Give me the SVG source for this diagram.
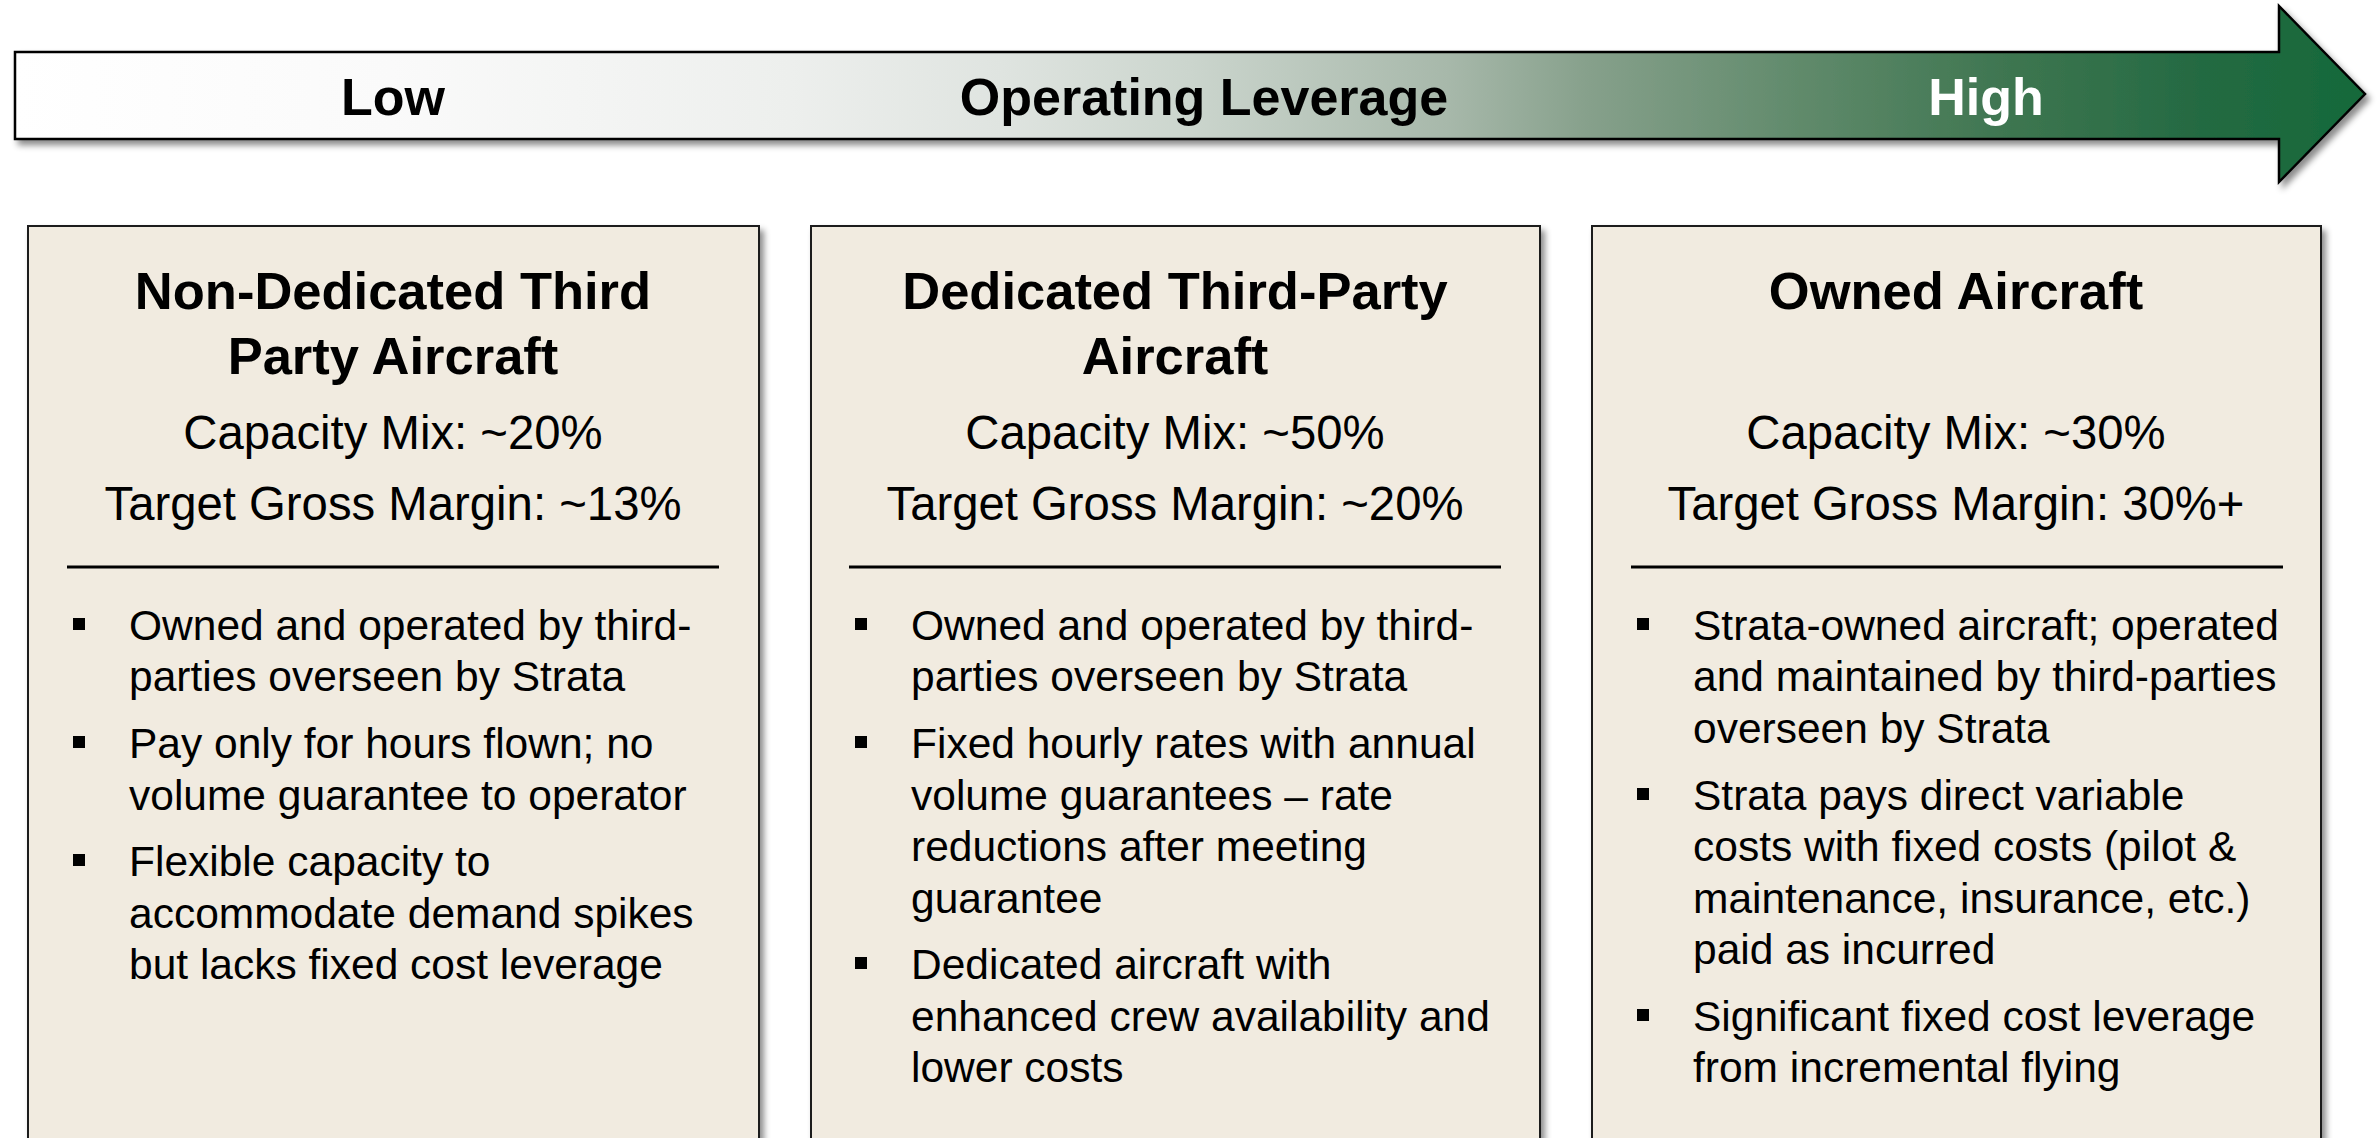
<svg xmlns="http://www.w3.org/2000/svg" width="2377" height="1138" viewBox="0 0 2377 1138">
<style>
.t{font-family:"Liberation Sans",Arial,sans-serif;fill:#000}
.lbl{font-size:52px;font-weight:bold;text-anchor:middle}
.title{font-size:52.5px;font-weight:bold;text-anchor:middle}
.sub{font-size:47.3px;text-anchor:middle}
.b{font-size:42.5px}
.box{fill:#F1EBE0;stroke:#1a1a1a;stroke-width:2}
.sep{stroke:#000;stroke-width:3}
.bul{fill:#000}
</style>
<defs>
<linearGradient id="g" gradientUnits="userSpaceOnUse" x1="15" y1="0" x2="2365" y2="0">
<stop offset="0" stop-color="#FFFFFF"/>
<stop offset="0.16" stop-color="#FAFAFA"/>
<stop offset="0.33" stop-color="#EDEFED"/>
<stop offset="0.42" stop-color="#DFE4E0"/>
<stop offset="0.50" stop-color="#CBD5CD"/>
<stop offset="0.61" stop-color="#A7B8AA"/>
<stop offset="0.67" stop-color="#86A08B"/>
<stop offset="0.76" stop-color="#608A6B"/>
<stop offset="0.845" stop-color="#3F7651"/>
<stop offset="0.93" stop-color="#246A42"/>
<stop offset="1" stop-color="#15693A"/>
</linearGradient>
<filter id="sh" x="-5%" y="-5%" width="110%" height="120%">
<feDropShadow dx="4" dy="5" stdDeviation="3" flood-color="#000" flood-opacity="0.45"/>
</filter>
</defs>

<g id="arrow">
<path d="M15,52 H2279 V6 L2365,94 L2279,182 V139 H15 Z" fill="url(#g)" stroke="#000" stroke-width="2.5" filter="url(#sh)"/>
<text class="t lbl" x="393" y="115">Low</text>
<text class="t lbl" x="1204" y="115">Operating Leverage</text>
<text class="t lbl" x="1986" y="115" style="fill:#fff">High</text>
</g>

<g id="connectors"></g>

<g id="box1">
<rect class="box" x="28" y="226" width="731" height="960" filter="url(#sh)"/>
<text class="t title" x="393" y="309">Non-Dedicated Third</text>
<text class="t title" x="393" y="374">Party Aircraft</text>
<text class="t sub" x="393" y="449">Capacity Mix: ~20%</text>
<text class="t sub" x="393" y="520">Target Gross Margin: ~13%</text>
<line class="sep" x1="67" y1="567" x2="719" y2="567"/>
<rect class="bul" x="73" y="618" width="12" height="12"/>
<text class="t b" x="129" y="640">Owned and operated by third-</text>
<text class="t b" x="129" y="691">parties overseen by Strata</text>
<rect class="bul" x="73" y="736" width="12" height="12"/>
<text class="t b" x="129" y="758">Pay only for hours flown; no</text>
<text class="t b" x="129" y="810">volume guarantee to operator</text>
<rect class="bul" x="73" y="854" width="12" height="12"/>
<text class="t b" x="129" y="876">Flexible capacity to</text>
<text class="t b" x="129" y="928">accommodate demand spikes</text>
<text class="t b" x="129" y="979">but lacks fixed cost leverage</text>
</g>

<g id="box2">
<rect class="box" x="811" y="226" width="729" height="960" filter="url(#sh)"/>
<text class="t title" x="1175" y="309">Dedicated Third-Party</text>
<text class="t title" x="1175" y="374">Aircraft</text>
<text class="t sub" x="1175" y="449">Capacity Mix: ~50%</text>
<text class="t sub" x="1175" y="520">Target Gross Margin: ~20%</text>
<line class="sep" x1="849" y1="567" x2="1501" y2="567"/>
<rect class="bul" x="855" y="618" width="12" height="12"/>
<text class="t b" x="911" y="640">Owned and operated by third-</text>
<text class="t b" x="911" y="691">parties overseen by Strata</text>
<rect class="bul" x="855" y="736" width="12" height="12"/>
<text class="t b" x="911" y="758">Fixed hourly rates with annual</text>
<text class="t b" x="911" y="810">volume guarantees – rate</text>
<text class="t b" x="911" y="861">reductions after meeting</text>
<text class="t b" x="911" y="913">guarantee</text>
<rect class="bul" x="855" y="957" width="12" height="12"/>
<text class="t b" x="911" y="979">Dedicated aircraft with</text>
<text class="t b" x="911" y="1031">enhanced crew availability and</text>
<text class="t b" x="911" y="1082">lower costs</text>
</g>

<g id="box3">
<rect class="box" x="1592" y="226" width="729" height="960" filter="url(#sh)"/>
<text class="t title" x="1956" y="309">Owned Aircraft</text>
<text class="t sub" x="1956" y="449">Capacity Mix: ~30%</text>
<text class="t sub" x="1956" y="520">Target Gross Margin: 30%+</text>
<line class="sep" x1="1631" y1="567" x2="2283" y2="567"/>
<rect class="bul" x="1637" y="618" width="12" height="12"/>
<text class="t b" x="1693" y="640">Strata-owned aircraft; operated</text>
<text class="t b" x="1693" y="691">and maintained by third-parties</text>
<text class="t b" x="1693" y="743">overseen by Strata</text>
<rect class="bul" x="1637" y="788" width="12" height="12"/>
<text class="t b" x="1693" y="810">Strata pays direct variable</text>
<text class="t b" x="1693" y="861">costs with fixed costs (pilot &amp;</text>
<text class="t b" x="1693" y="913">maintenance, insurance, etc.)</text>
<text class="t b" x="1693" y="964">paid as incurred</text>
<rect class="bul" x="1637" y="1009" width="12" height="12"/>
<text class="t b" x="1693" y="1031">Significant fixed cost leverage</text>
<text class="t b" x="1693" y="1082">from incremental flying</text>
</g>
</svg>
